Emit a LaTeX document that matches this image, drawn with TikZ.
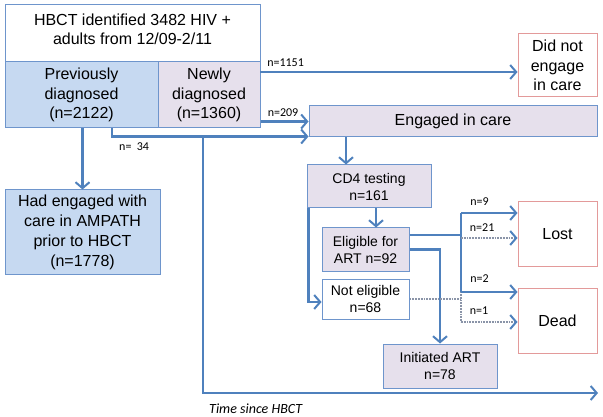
\documentclass[tikz,border=0pt]{standalone}
\usepackage{fontspec}
\setmainfont{Liberation Sans}
\newfontfamily\labelfont{Carlito}
\usetikzlibrary{arrows.meta}

\begin{document}
\begin{tikzpicture}
[x=1pt,y=-1pt,line join=miter,
% Styles
box/.style={draw=boxcolor,line width=1pt,inner sep=0pt,align=center,
  font=\fontsize{16}{19.5}\selectfont},
small box/.style={box,font=\fontsize{14}{17}\selectfont},
outcome box/.style={box,draw=outcolor,fill=white},
flow/.style={draw=flowcolor,line width=2.5pt,
  -{Straight Barb[length=6pt,width=14pt,line width=2pt]}},
flow line/.style={draw=flowcolor,line width=2.5pt},
dotted flow/.style={draw=dotcolor,line width=1.8pt,densely dotted,
  -{Straight Barb[length=6pt,width=14pt,line width=2pt,color=flowcolor]}},
dotted line/.style={draw=dotcolor,line width=1.8pt,densely dotted},
count/.style={font=\labelfont\fontsize{12}{14}\selectfont,inner sep=0pt,anchor=base west}]
% Colors
\definecolor{flowcolor}{HTML}{4F81BD}
\definecolor{boxcolor}{HTML}{6E95CC}
\definecolor{outcolor}{HTML}{E39A9A}
\definecolor{prevfill}{HTML}{C6D9F1}
\definecolor{newfill}{HTML}{E6E0EC}
\definecolor{dotcolor}{HTML}{8A94A8}

\useasboundingbox (0,0) rectangle (603,417);

% The boxes
\node[box,fill=white,minimum width=255,minimum height=57] (hbct) at (132.5,33.5) {};
\node[font=\fontsize{16}{19}\selectfont,align=center] (hbcttext) at ([yshift=4.5pt]hbct.center)
  {HBCT identified 3482 HIV +\\adults from 12/09-2/11};
\node[box,fill=prevfill,minimum width=153,minimum height=66] (prev) at (81.5,95)
  {Previously\\diagnosed\\(n=2122)};
\node[box,fill=newfill,minimum width=102,minimum height=66] (newdx) at (209,95)
  {Newly\\diagnosed\\(n=1360)};
\node[outcome box,minimum width=79,minimum height=63] (noengage) at (557.5,65.5)
  {Did not\\engage\\in care};
\node[box,fill=newfill,minimum width=288,minimum height=31] (engaged) at (453,121.5)
  {Engaged in care};
\node[box,fill=prevfill,minimum width=155,minimum height=84,
  font=\fontsize{16}{20}\selectfont] (ampath) at (82.5,232)
  {Had engaged with\\care in AMPATH\\prior to HBCT\\(n=1778)};
\node[small box,fill=newfill,minimum width=124,minimum height=43] (cdfour) at (369,186.5)
  {CD4 testing\\n=161};
\node[small box,fill=newfill,minimum width=87,minimum height=43] (eligible) at (365.5,249.5)
  {Eligible for\\ART n=92};
\node[small box,fill=white,minimum width=87,minimum height=40] (noteligible) at (365.5,299)
  {Not eligible\\n=68};
\node[small box,fill=newfill,minimum width=114,minimum height=44] (initiated) at (440,366)
  {Initiated ART\\n=78};
\node[outcome box,minimum width=79,minimum height=64] (lost) at (557.5,234) {Lost};
\node[outcome box,minimum width=79,minimum height=65] (dead) at (557.5,320.5) {Dead};

% Local points
\coordinate (split) at (260,72);
\coordinate (tstart) at (203,137);
\coordinate (tend) at (598,393);
\coordinate (jtop) at (461,213);
\coordinate (jbot) at (461,292);
\coordinate (dtop) at (461,238);
\coordinate (dbot) at (461,322);

% The graphic
\draw[flow] (split) -- node[count,pos=0,xshift=6pt,yshift=5pt] {n=1151} (split -| noengage.west);
\draw[flow] (newdx.east |- engaged.west) -- node[count,pos=0,xshift=6pt,yshift=5pt] {n=209} (engaged.west);
\draw[flow] ([xshift=30.5pt]prev.south) |- ([yshift=1pt]engaged.south west);
\node[count] (nthirtyfour) at (119,151) {n=\ \ 34};
\draw[flow] (prev.south -| ampath.north) -- (ampath.north);
\draw[flow] (tstart) |- (tend);
\node[font=\labelfont\itshape\fontsize{14}{16}\selectfont,anchor=base west,inner sep=0pt]
  (timelabel) at (209,413) {Time since HBCT};

\draw[flow] ([xshift=-23pt]cdfour.north |- engaged.south) -- ([xshift=-23pt]cdfour.north);
\draw[flow] ([xshift=7pt]cdfour.south) -- ([xshift=7pt]cdfour.south |- eligible.north);
\draw[flow] ([xshift=2pt]cdfour.south west) |- ([yshift=-3pt]noteligible.west);
\draw[flow] (eligible.east) -| (initiated.north);

% Outcomes
\draw[dotted line] (noteligible.east) -- (noteligible.east -| dtop);
\draw[dotted line] (dtop) -- (dbot);
\draw[flow line] ([yshift=14.5pt]eligible.east) -- ([yshift=14.5pt]eligible.east -| jtop);
\draw[flow line] (jtop) -- (jbot);
\draw[flow] (jtop) -- node[count,pos=0,xshift=8pt,yshift=7pt] {n=9} (jtop -| lost.west);
\draw[dotted flow] (dtop) -- node[count,pos=0,xshift=8pt,yshift=6pt] {n=21} (dtop -| lost.west);
\draw[flow] (jbot) -- node[count,pos=0,xshift=8pt,yshift=10pt] {n=2} (jbot -| dead.west);
\draw[dotted flow] (dbot) -- node[count,pos=0,xshift=8pt,yshift=8pt] {n=1} (dbot -| dead.west);
\end{tikzpicture}
\end{document}
